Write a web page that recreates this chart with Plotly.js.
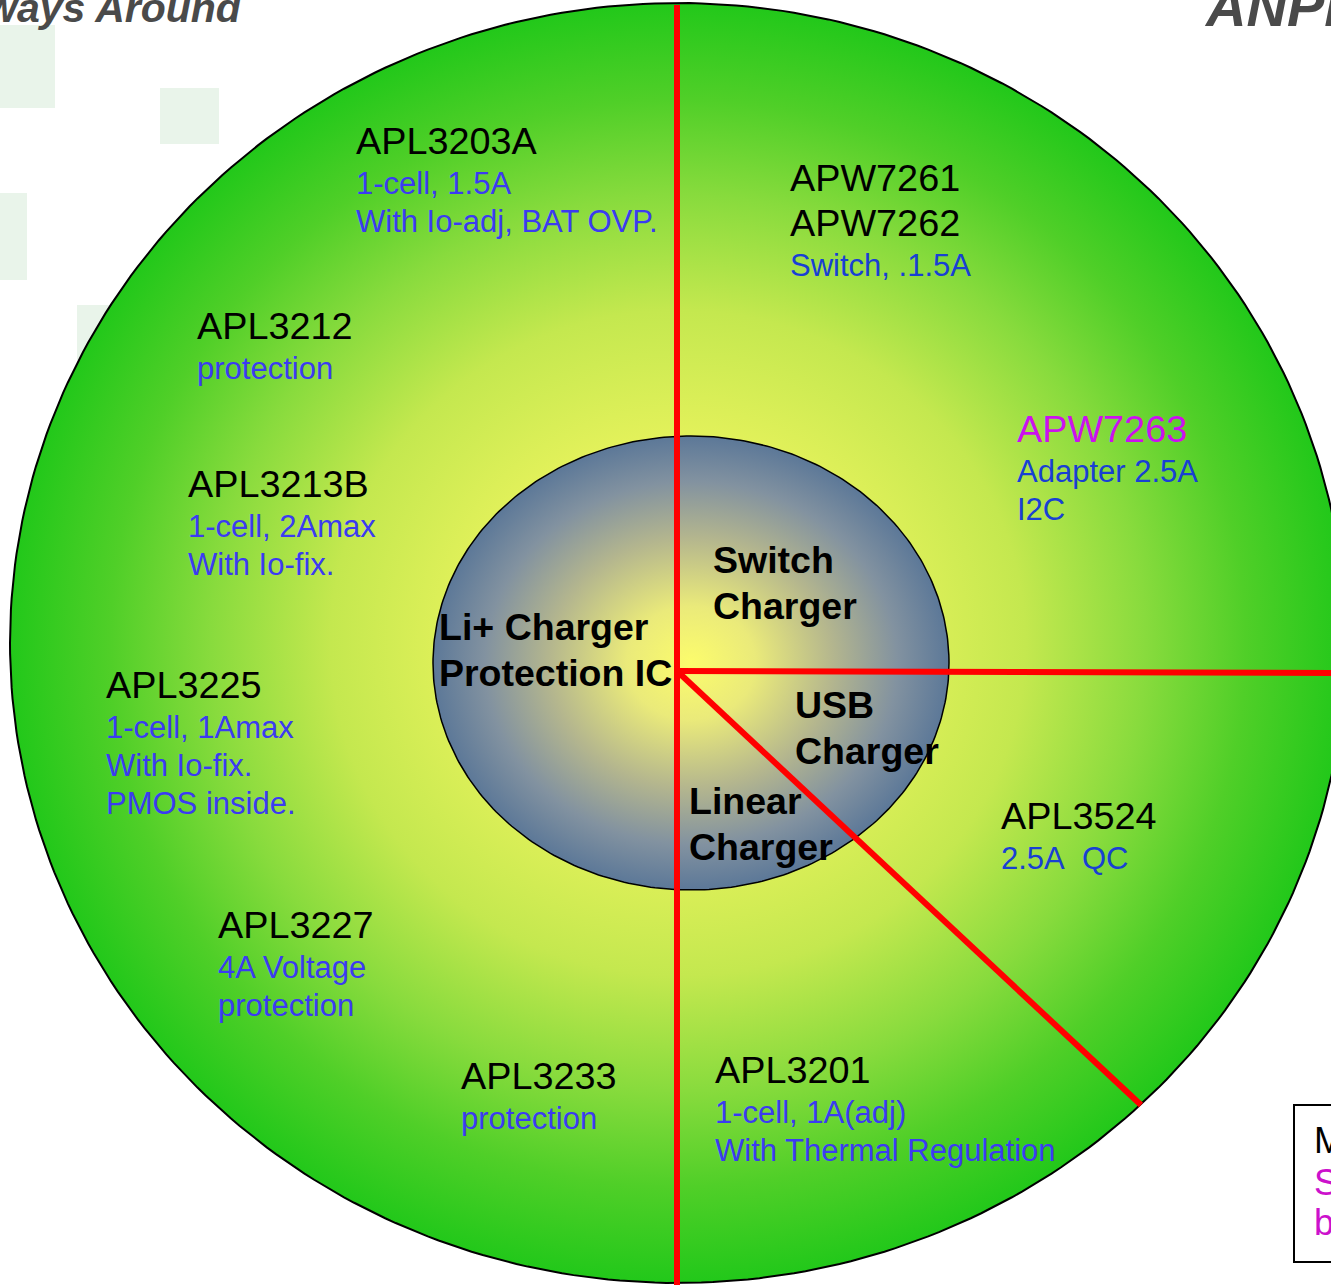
<!DOCTYPE html>
<html>
<head>
<meta charset="utf-8">
<script src="https://cdn.plot.ly/plotly-3.0.1.min.js"></script>
<style>html,body{margin:0;padding:0;background:#fff;}#chart{width:1331px;height:1285px;}</style>
</head>
<body>
<div id="chart"></div>
<script>
// ---- content ----
const partTitles = [['APL3203A'], ['APW7261', 'APW7262'], ['APL3212'], ['APW7263'], ['APL3213B'],
  ['APL3225'], ['APL3524'], ['APL3227'], ['APL3233'], ['APL3201']];
const partNotes = [['1-cell, 1.5A', 'With Io-adj, BAT OVP.'], ['Switch, .1.5A'], ['protection'],
  ['Adapter 2.5A', 'I2C'], ['1-cell, 2Amax', 'With Io-fix.'], ['1-cell, 1Amax', 'With Io-fix.', 'PMOS inside.'],
  ['2.5A\u00a0 QC'], ['4A Voltage', 'protection'], ['protection'], ['1-cell, 1A(adj)', 'With Thermal Regulation']];
const segmentNames = [['Li+ Charger', 'Protection IC'], ['Switch', 'Charger'], ['USB', 'Charger'], ['Linear', 'Charger']];
const legendLines = ['M', 'S', 'b'];

// ---- layout (pixel positions) ----
const W = 1331, H = 1285;
const partAnchor = [[355,141],[789,178],[196,326],[1016,429],[187,484],[105,685],[1000,816],[217,925],[460,1076],[714,1070]];
const titleColor = ['#000','#000','#000','#cc11ee','#000','#000','#000','#000','#000','#000'];
const noteColor = ['#3b3bf2','#1840d4','#3b3bf2','#1840d4','#3b3bf2','#3b3bf2','#1840d4','#3b3bf2','#3b3bf2','#3b3bf2'];
const segAnchor = [[438,627],[712,560],[794,705],[688,801]];
const FONT = 'Liberation Sans, Arial, sans-serif';

const outer = {cx: 678, cy: 643, rx: 668, ry: 640};
const inner = {cx: 691, cy: 663, rx: 258, ry: 227};

function ellipse(c) {
  const x = [], y = [];
  for (let i = 0; i <= 360; i++) {
    const t = i * Math.PI / 180;
    x.push(c.cx + c.rx * Math.cos(t));
    y.push(c.cy + c.ry * Math.sin(t));
  }
  return {x, y};
}

const o = ellipse(outer);
const e = ellipse(inner);

const traces = [
  {x: o.x, y: o.y, type: 'scatter', mode: 'lines', fill: 'toself', hoverinfo: 'skip',
   line: {color: '#000', width: 2},
   fillcolor: '#7ad83c',
   fillgradient: {type: 'radial', colorscale: [[0, '#fbfb6c'], [0.3, '#e6f25c'], [0.52, '#c4e84f'], [0.7, '#88db3d'], [0.85, '#50cf28'], [1, '#22c81a']]}},
  {x: e.x, y: e.y, type: 'scatter', mode: 'lines', fill: 'toself', hoverinfo: 'skip',
   line: {color: '#000', width: 1.5},
   fillcolor: '#a0a890',
   fillgradient: {type: 'radial', colorscale: [[0, '#fcfc6c'], [0.25, '#eaea7a'], [0.55, '#b4b68e'], [0.8, '#8292a0'], [1, '#5c7898']]}}
];

const shapes = [
  // pale background squares
  {type: 'rect', layer: 'below', x0: 0, x1: 55, y0: 25, y1: 108, fillcolor: '#e9f4ea', line: {width: 0}},
  {type: 'rect', layer: 'below', x0: 160, x1: 219, y0: 88, y1: 144, fillcolor: '#e9f4ea', line: {width: 0}},
  {type: 'rect', layer: 'below', x0: 0, x1: 27, y0: 193, y1: 280, fillcolor: '#e9f4ea', line: {width: 0}},
  {type: 'rect', layer: 'below', x0: 77, x1: 112, y0: 305, y1: 360, fillcolor: '#e9f4ea', line: {width: 0}},
  // red dividers
  {type: 'line', x0: 677, x1: 677, y0: 5, y1: H + 10, line: {color: '#ff0000', width: 6}},
  {type: 'line', x0: 677, x1: W + 10, y0: 671, y1: 673, line: {color: '#ff0000', width: 6}},
  {type: 'line', x0: 677, x1: 1141, y0: 671, y1: 1105, line: {color: '#ff0000', width: 6}},
  // legend box at lower right
  {type: 'rect', x0: 1294, x1: W + 20, y0: 1105, y1: 1262, fillcolor: '#fff', line: {color: '#000', width: 2}}
];

const annotations = [];
function addText(txt, x, y, size, color, bold, extra) {
  annotations.push(Object.assign({text: bold ? '<b>' + txt + '</b>' : txt, x, y, xref: 'x', yref: 'y',
    xanchor: 'left', yanchor: 'middle', showarrow: false, borderpad: 0,
    font: {family: FONT, size, color}}, extra || {}));
}

partTitles.forEach((titles, g) => {
  const [x0, y0] = partAnchor[g];
  let y = y0;
  titles.forEach((t, i) => { if (i > 0) y += 45; addText(t, x0, y, 37.8, titleColor[g], false); });
  y += 42;
  partNotes[g].forEach((n, i) => { if (i > 0) y += 38; addText(n, x0, y, 31, noteColor[g], false); });
});

segmentNames.forEach((lines, g) => {
  const [x0, y0] = segAnchor[g];
  lines.forEach((t, i) => addText(t, x0, y0 + 46 * i, 37.5, '#000', true));
});

const legendColors = ['#000', '#cc11cc', '#cc11cc'];
const legendY = [1140, 1182, 1222];
legendLines.forEach((t, i) => addText(t, 1313, legendY[i], 36, legendColors[i], false));

// logo fragments at top
addText('<i>ways Around</i>', 243, 8, 41, '#4a4a4a', true, {xanchor: 'right'});
addText('<i>ANPEC</i>', 1203, 6, 56, '#4a4a4a', true);

const layout = {
  width: W, height: H,
  margin: {l: 0, r: 0, t: 0, b: 0, pad: 0},
  paper_bgcolor: '#ffffff', plot_bgcolor: 'rgba(0,0,0,0)',
  showlegend: false,
  xaxis: {range: [0, W], visible: false, fixedrange: true},
  yaxis: {range: [H, 0], visible: false, fixedrange: true},
  shapes, annotations
};

Plotly.newPlot('chart', traces, layout, {staticPlot: true, displayModeBar: false});
</script>
</body>
</html>
